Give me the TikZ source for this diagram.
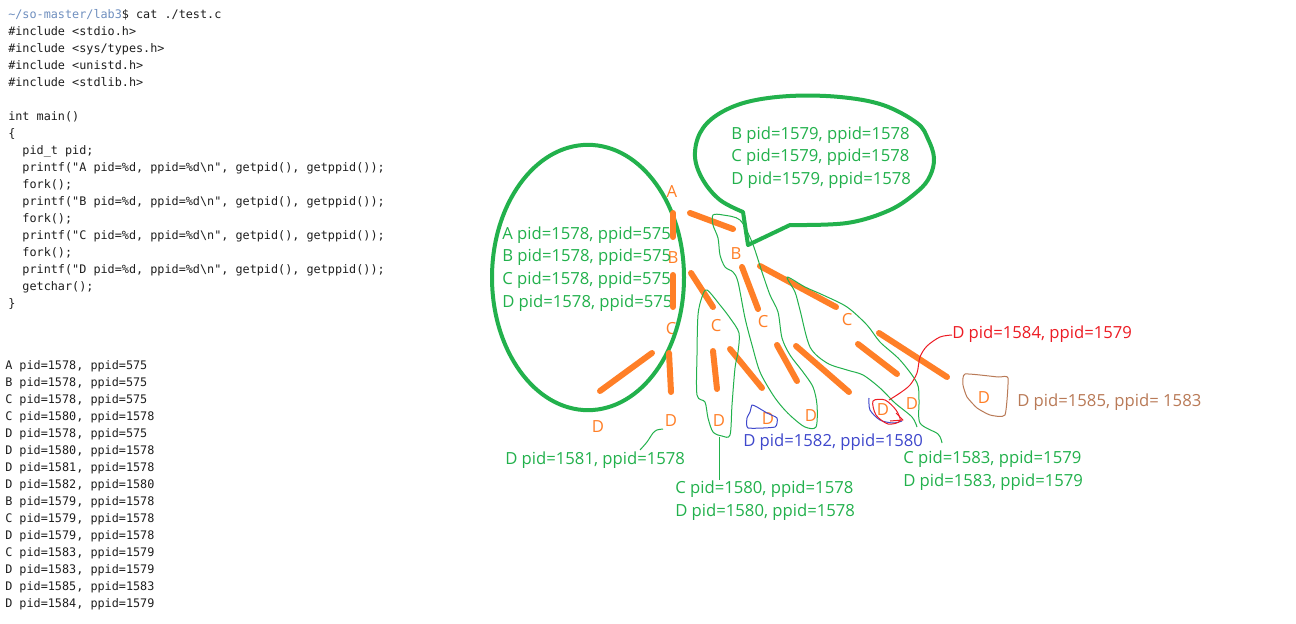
\documentclass[tikz,border=0pt]{standalone}
\usepackage{fontspec}
\setmonofont{DejaVu Sans Mono}
\newfontfamily\paintfont{Open Sans}
\definecolor{pbgreen}{HTML}{22B14C}
\definecolor{pborange}{HTML}{FF7F27}
\definecolor{pbred}{HTML}{ED1C24}
\definecolor{pbblue}{HTML}{3F48CC}
\definecolor{pbbrown}{HTML}{B97A57}
\definecolor{termink}{HTML}{1E1E1E}
\definecolor{prompt}{HTML}{6F8FBF}
\newcommand{\ind}{\hphantom{xx}}

\begin{document}
\begin{tikzpicture}[x=0.75pt,y=-0.75pt,
  code/.style={font=\ttfamily\fontsize{8.85}{12.75}\selectfont,text=termink,align=left,
    inner sep=0pt,anchor=base west},
  pidtxt/.style={font=\paintfont\fontsize{12.5}{17}\selectfont,align=left,inner sep=0pt,
    anchor=base west},
  letter/.style={font=\paintfont\fontsize{12.5}{17}\selectfont,text=pborange,inner sep=0pt},
  branch/.style={pborange,line width=4.5pt,line cap=round},
  lasso/.style={line width=0.75pt,line join=round},
  ring/.style={pbgreen,line width=3pt}]
  \useasboundingbox[fill=white] (0,0) rectangle (1296,624);
  % terminal: source and output (anchored on the last line)
  \node[code] (src) at (8,307.3) {{\color{prompt}\textasciitilde/so-master/lab3}\$ cat ./test.c\\
    \#include <stdio.h>\\
    \#include <sys/types.h>\\
    \#include <unistd.h>\\
    \#include <stdlib.h>\\
    \mbox{}\\
    int main()\\
    \{\\
    \ind pid\_t pid;\\
    \ind printf("A pid=\%d, ppid=\%d\textbackslash n", getpid(), getppid());\\
    \ind fork();\\
    \ind printf("B pid=\%d, ppid=\%d\textbackslash n", getpid(), getppid());\\
    \ind fork();\\
    \ind printf("C pid=\%d, ppid=\%d\textbackslash n", getpid(), getppid());\\
    \ind fork();\\
    \ind printf("D pid=\%d, ppid=\%d\textbackslash n", getpid(), getppid());\\
    \ind getchar();\\
    \}};
  \node[code,font=\ttfamily\fontsize{8.85}{12.7}\selectfont] (log) at (5,607) {A pid=1578, ppid=575\\
    B pid=1578, ppid=575\\
    C pid=1578, ppid=575\\
    C pid=1580, ppid=1578\\
    D pid=1578, ppid=575\\
    D pid=1580, ppid=1578\\
    D pid=1581, ppid=1578\\
    D pid=1582, ppid=1580\\
    B pid=1579, ppid=1578\\
    C pid=1579, ppid=1578\\
    D pid=1579, ppid=1578\\
    C pid=1583, ppid=1579\\
    D pid=1583, ppid=1579\\
    D pid=1585, ppid=1583\\
    D pid=1584, ppid=1579};
  % orange letters of the tree
  \node[letter] (a1) at (672,192) {A};
  \node[letter] (b1) at (673,258) {B};
  \node[letter] (c1) at (671,329) {C};
  \node[letter] (b2) at (736,254) {B};
  \node[letter] (c2) at (716,326) {C};
  \node[letter] (c3) at (763,322) {C};
  \node[letter] (c4) at (847,320) {C};
  \node[letter] (d1) at (598,427) {D};
  \node[letter] (d2) at (671,421) {D};
  \node[letter] (d3) at (719,421) {D};
  \node[letter] (d4) at (768,419) {D};
  \node[letter] (d5) at (811,416) {D};
  \node[letter] (d6) at (883,410) {D};
  \node[letter] (d7) at (912,404) {D};
  \node[letter] (d8) at (984,398) {D};
  % pid labels
  \node[pidtxt,text=pbgreen] (p1578) at (502,307)
    {A pid=1578, ppid=575\\B pid=1578, ppid=575\\C pid=1578, ppid=575\\D pid=1578, ppid=575};
  \node[pidtxt,text=pbgreen] (p1579) at (731,184.6)
    {B pid=1579, ppid=1578\\C pid=1579, ppid=1578\\D pid=1579, ppid=1578};
  \node[pidtxt,text=pbgreen] (p1581) at (505,464) {D pid=1581, ppid=1578};
  \node[pidtxt,text=pbgreen] (p1580) at (675,516) {C pid=1580, ppid=1578\\D pid=1580, ppid=1578};
  \node[pidtxt,text=pbblue] (p1582) at (743,446.7) {D pid=1582, ppid=1580};
  \node[pidtxt,text=pbgreen] (p1583) at (903,486) {C pid=1583, ppid=1579\\D pid=1583, ppid=1579};
  \node[pidtxt,text=pbred] (p1584) at (952,338.5) {D pid=1584, ppid=1579};
  \node[pidtxt,text=pbbrown] (p1585) at (1017,406.7) {D pid=1585, ppid= 1583};
  % first process
  \draw[ring] (588,277.5) ellipse [x radius=72pt,y radius=99.5pt];
  % forks
  \draw[branch] (673,213) -- (673,237);
  \draw[branch] (690,213) -- (733,229);
  \draw[branch] (673,275) -- (673,307);
  \draw[branch] (691,273) -- (713,307);
  \draw[branch] (742,267) -- (758,309);
  \draw[branch] (760,266) -- (836,307);
  \draw[branch] (652,353) -- (600,391);
  \draw[branch] (669,353) -- (671,392);
  \draw[branch] (713,351) -- (717,389);
  \draw[branch] (730,349) -- (762,388);
  \draw[branch] (777,345) -- (797,381);
  \draw[branch] (796,346) -- (849,392);
  \draw[branch] (858,344) -- (897,374);
  \draw[branch] (879,333) -- (947,377);
  % hand drawn groups
  \draw[lasso,pbgreen] plot[smooth cycle,tension=0.5] coordinates {(707,290) (720,305) (730,318)
    (739,333) (738,352) (735,368) (732,405) (730,435) (722,436) (713,432) (708,418) (705,402)
    (697,395) (697,355) (698,315) (702,297)};
  \draw[lasso,pbgreen] (719,437) -- (719,480);
  \draw[lasso,pbgreen] plot[smooth cycle,tension=0.5] coordinates {(713,215) (723,215) (740,220)
    (752,242) (762,272) (770,295) (778,312) (782,338) (790,355) (803,372) (813,387) (817,405)
    (816,427) (805,427) (793,418) (783,408) (773,395) (760,372) (752,345) (745,318) (738,282)
    (733,272) (725,267) (720,255) (718,238) (713,225)};
  \draw[lasso,pbgreen] plot[smooth,tension=0.5] coordinates {(942,443) (938,434) (920,423)
    (919,400) (917,383) (900,360) (880,342) (867,325) (847,307) (823,295) (805,287) (787,277)
    (795,292) (800,310) (810,347) (827,363) (847,370) (863,375) (880,388) (895,403) (912,417)
    (917,427)};
  \draw[lasso,pbgreen] plot[smooth,tension=0.5] coordinates {(640,450) (647,442) (653,433)
    (657,430) (663,429)};
  \draw[lasso,pbblue] plot[smooth cycle,tension=0.3] coordinates {(752,405) (757,407) (767,413)
    (777,418) (775,427) (748,428) (747,418) (750,412)};
  \draw[lasso,pbblue] plot[smooth,tension=0.5] coordinates {(869,398) (870,410) (880,420)
    (893,423) (902,421)};
  \draw[lasso,pbred] plot[smooth cycle,tension=0.5] coordinates {(873,401) (885,400) (896,410)
    (900,421) (888,424) (876,415)};
  \draw[lasso,pbred] (896,413) -- (903,420) -- (890,421);
  \draw[lasso,pbred] plot[smooth,tension=0.5] coordinates {(889,400) (900,393) (910,385)
    (917,373) (920,357) (927,346) (940,337) (952,335)};
  \draw[lasso,pbbrown] plot[smooth cycle,tension=0.3] coordinates {(965,374) (998,377)
    (1008,378) (1005,415) (990,415) (977,408) (967,397) (963,385)};
  % speech bubble of the first child
  \draw[ring,line join=round] plot[smooth,tension=0.6] coordinates {(790,225) (847,223) (890,210)
    (918,191) (930,176) (934,158) (928,139) (917,123) (883,105) (840,97) (790,96) (747,102)
    (717,115) (700,133) (695,157) (703,180) (720,200) (743,212)} -- (748,245) -- cycle;
\end{tikzpicture}
\end{document}
